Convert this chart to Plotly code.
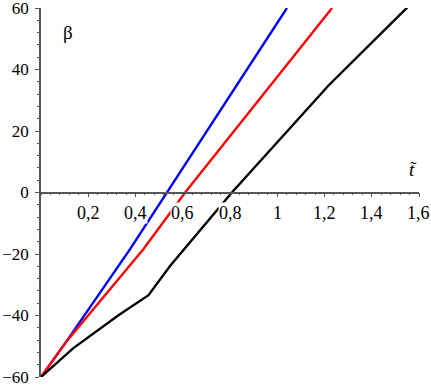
import plotly.graph_objects as go

# data
blue_t = [0, 0.107, 0.377, 0.532, 0.850, 1.041]
blue_b = [-60, -48.5, -18.4, 0, 37.4, 60]

red_t = [0, 0.107, 0.434, 0.610, 0.992, 1.232]
red_b = [-60, -48.5, -18.4, 0, 36.8, 60]

black_t = [0, 0.137, 0.328, 0.455, 0.547, 0.808, 1.217, 1.556]
black_b = [-60, -50.6, -39.9, -33.4, -23.8, 0, 34.8, 60.6]

x_tick_vals = [0.2, 0.4, 0.6, 0.8, 1.0, 1.2, 1.4, 1.6]
x_tick_text = ["0,2", "0,4", "0,6", "0,8", "1", "1,2", "1,4", "1,6"]
y_tick_vals = [-60, -40, -20, 0, 20, 40, 60]

FONT = "'Liberation Serif', 'DejaVu Serif', serif"

fig = go.Figure()
for t, b, c in [(blue_t, blue_b, "#0000ff"), (red_t, red_b, "#ff0000"), (black_t, black_b, "#000000")]:
    fig.add_trace(go.Scatter(x=t, y=b, mode="lines", line=dict(color=c, width=2.4),
                             showlegend=False, hoverinfo="skip", cliponaxis=True))

annotations = []
for v, s in zip(x_tick_vals, x_tick_text):
    annotations.append(dict(x=v, y=0, xref="x", yref="y", text=s, showarrow=False,
                            yanchor="middle", xanchor="center", yshift=-20,
                            xshift=-1 if v == 1.6 else 0,
                            bgcolor="white", borderpad=0,
                            font=dict(family=FONT, size=18, color="black")))
annotations.append(dict(x=0.115, y=52, xref="x", yref="y", text="β", showarrow=False,
                        font=dict(family=FONT, size=19, color="black")))
annotations.append(dict(x=1.575, y=7.5, xref="x", yref="y", text="<i>t\u0303</i>", showarrow=False,
                        font=dict(family=FONT, size=19, color="black")))

fig.update_layout(
    width=431, height=387,
    margin=dict(l=41, r=12, t=8, b=10),
    plot_bgcolor="white", paper_bgcolor="white",
    separators=", ",
    font=dict(family=FONT),
    annotations=annotations,
    xaxis=dict(range=[0, 1.6], anchor="free", position=0.5, showline=True,
               linecolor="#555555", linewidth=1.5, showgrid=False, zeroline=False,
               tickvals=x_tick_vals, showticklabels=False, ticks="outside", ticklen=4,
               tickcolor="#555555", automargin=False,
               minor=dict(dtick=0.04, ticks="outside", ticklen=2, tickcolor="#555555"),
               layer="above traces"),
    yaxis=dict(range=[-60, 60], showline=True, linecolor="#555555", linewidth=1.5,
               showgrid=False, zeroline=False, tickvals=y_tick_vals, ticks="outside",
               ticklen=4, tickcolor="#555555", ticklabelstandoff=3,
               ticklabeloverflow="allow", automargin=False,
               tickfont=dict(family=FONT, size=17, color="black"),
               minor=dict(dtick=4, ticks="outside", ticklen=2, tickcolor="#555555")),
)

fig.write_html("out.html", config={"displayModeBar": False},
               post_script="document.body.style.margin='0';")
